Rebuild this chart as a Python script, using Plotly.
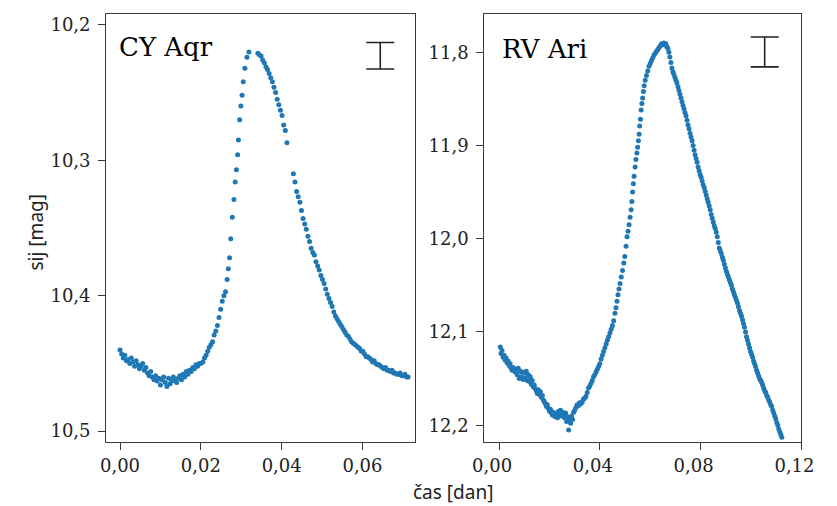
import plotly.graph_objs as go

# CY Aqr light curve (time in days, magnitude)
cy_t = [0.0000, 0.0004, 0.0008, 0.0012, 0.0016, 0.0020, 0.0024, 0.0028, 0.0032, 0.0036,
        0.0040, 0.0044, 0.0048, 0.0052, 0.0056, 0.0060, 0.0064, 0.0068, 0.0072, 0.0076,
        0.0080, 0.0084, 0.0088, 0.0092, 0.0096, 0.0100, 0.0104, 0.0108, 0.0112, 0.0116,
        0.0120, 0.0124, 0.0128, 0.0132, 0.0136, 0.0140, 0.0144, 0.0148, 0.0152, 0.0156,
        0.0160, 0.0164, 0.0168, 0.0172, 0.0176, 0.0180, 0.0184, 0.0188, 0.0192, 0.0196,
        0.0200,
        0.0205, 0.0209, 0.0213, 0.0217, 0.0221, 0.0225, 0.0229, 0.0233, 0.0237, 0.0241,
        0.0245, 0.0249, 0.0253, 0.0257, 0.0261, 0.0265, 0.0268, 0.0271, 0.0274, 0.0278,
        0.0282, 0.0285, 0.0288, 0.0291, 0.0293, 0.0296, 0.0299, 0.0302, 0.0305, 0.0309,
        0.0314, 0.0319,
        0.0341, 0.0345, 0.0349, 0.0353, 0.0357, 0.0361, 0.0365, 0.0369, 0.0373, 0.0377,
        0.0381, 0.0385, 0.0389, 0.0393, 0.0397, 0.0401, 0.0405, 0.0409, 0.0413,
        0.0429, 0.0433, 0.0437, 0.0441, 0.0445, 0.0449, 0.0453, 0.0457, 0.0461, 0.0465,
        0.0469, 0.0473, 0.0477, 0.0481, 0.0485, 0.0489, 0.0493, 0.0497, 0.0501, 0.0505,
        0.0509, 0.0513, 0.0517, 0.0521, 0.0525, 0.0529, 0.0533, 0.0537, 0.0541, 0.0545,
        0.0549, 0.0553, 0.0557, 0.0561, 0.0565, 0.0569, 0.0573, 0.0577, 0.0581, 0.0585,
        0.0589, 0.0593, 0.0597, 0.0601, 0.0605, 0.0609, 0.0613, 0.0617, 0.0621, 0.0625,
        0.0629, 0.0633, 0.0637, 0.0641, 0.0645, 0.0649, 0.0653, 0.0657, 0.0661, 0.0665,
        0.0669, 0.0673, 0.0677, 0.0681, 0.0685, 0.0689, 0.0693, 0.0697, 0.0701, 0.0705,
        0.0709, 0.0713]
cy_mag = [10.440, 10.443, 10.446, 10.444, 10.448, 10.447, 10.450, 10.446, 10.449, 10.452,
          10.448, 10.451, 10.454, 10.452, 10.450, 10.455, 10.453, 10.457, 10.459, 10.456,
          10.460, 10.462, 10.459, 10.463, 10.461, 10.466, 10.462, 10.460, 10.464, 10.467,
          10.461, 10.465, 10.463, 10.460, 10.462, 10.464, 10.461, 10.459, 10.462, 10.458,
          10.460, 10.456, 10.458, 10.455, 10.456, 10.453, 10.454, 10.451, 10.452, 10.450,
          10.450,
          10.449, 10.446, 10.444, 10.441, 10.438, 10.436, 10.434, 10.429, 10.426, 10.422,
          10.416, 10.410, 10.404, 10.400, 10.397, 10.388, 10.380, 10.372, 10.358, 10.342,
          10.329, 10.316, 10.307, 10.296, 10.285, 10.270, 10.260, 10.252, 10.242, 10.232,
          10.224, 10.220,
          10.221, 10.222, 10.223, 10.226, 10.228, 10.231, 10.233, 10.236, 10.239, 10.242,
          10.246, 10.250, 10.255, 10.259, 10.263, 10.267, 10.274, 10.278, 10.287,
          10.310, 10.316, 10.323, 10.327, 10.331, 10.337, 10.343, 10.347, 10.351, 10.356,
          10.360, 10.365, 10.368, 10.370, 10.375, 10.378, 10.381, 10.385, 10.388, 10.391,
          10.395, 10.399, 10.402, 10.405, 10.408, 10.412, 10.415, 10.417, 10.419, 10.421,
          10.423, 10.425, 10.427, 10.429, 10.430, 10.432, 10.434, 10.435, 10.436, 10.437,
          10.438, 10.439, 10.441, 10.441, 10.443, 10.445, 10.445, 10.446, 10.447, 10.449,
          10.448, 10.450, 10.451, 10.451, 10.452, 10.453, 10.454, 10.453, 10.455, 10.455,
          10.456, 10.455, 10.457, 10.457, 10.458, 10.458, 10.457, 10.459, 10.459, 10.458,
          10.460, 10.460]

# RV Ari light curve
rv_t = [0.0005, 0.0008, 0.0012, 0.0016, 0.0020, 0.0024, 0.0028, 0.0032, 0.0036, 0.0040,
        0.0044, 0.0048, 0.0052, 0.0056, 0.0060, 0.0064, 0.0068, 0.0072, 0.0076, 0.0080,
        0.0084, 0.0088, 0.0092, 0.0096, 0.0100, 0.0104, 0.0108, 0.0112, 0.0116, 0.0120,
        0.0124, 0.0128, 0.0132, 0.0136, 0.0140, 0.0144, 0.0148, 0.0152, 0.0156, 0.0160,
        0.0164, 0.0168, 0.0172, 0.0176, 0.0180, 0.0184, 0.0188, 0.0192, 0.0196, 0.0200,
        0.0204, 0.0208, 0.0212, 0.0216, 0.0220, 0.0224, 0.0228, 0.0232, 0.0236, 0.0240,
        0.0244, 0.0248, 0.0252, 0.0256, 0.0260, 0.0264, 0.0268, 0.0272, 0.0276, 0.0280,
        0.0284, 0.0288, 0.0292, 0.0296, 0.0300, 0.0305, 0.0310, 0.0315, 0.0320, 0.0325,
        0.0330, 0.0335, 0.0340, 0.0345, 0.0350, 0.0355, 0.0360, 0.0365, 0.0370, 0.0375,
        0.0380, 0.0385, 0.0390, 0.0395, 0.0400, 0.0405, 0.0410, 0.0415, 0.0420, 0.0425,
        0.0430, 0.0435, 0.0440, 0.0445, 0.0450, 0.0455, 0.0460, 0.0464, 0.0468, 0.0472,
        0.0476, 0.0480, 0.0485, 0.0490, 0.0495, 0.0499, 0.0504, 0.0508, 0.0512, 0.0516,
        0.0520, 0.0524, 0.0527, 0.0530, 0.0533, 0.0536, 0.0540, 0.0543, 0.0547, 0.0550,
        0.0553, 0.0556, 0.0558, 0.0561, 0.0564, 0.0567, 0.0570, 0.0573, 0.0576, 0.0580,
        0.0585, 0.0590, 0.0595, 0.0600, 0.0605, 0.0610, 0.0615, 0.0620, 0.0625, 0.0630,
        0.0635, 0.0640, 0.0645, 0.0650, 0.0654, 0.0658, 0.0662, 0.0666, 0.0670, 0.0674,
        0.0678, 0.0682, 0.0686, 0.0690, 0.0694, 0.0698, 0.0702, 0.0706, 0.0710, 0.0714,
        0.0718, 0.0722, 0.0726, 0.0730, 0.0734, 0.0738, 0.0742, 0.0746, 0.0750, 0.0754,
        0.0758, 0.0762, 0.0766, 0.0770, 0.0774, 0.0778, 0.0782, 0.0786, 0.0790, 0.0794,
        0.0798, 0.0802, 0.0806, 0.0810, 0.0814, 0.0818, 0.0822, 0.0826, 0.0830, 0.0834,
        0.0838, 0.0842, 0.0846, 0.0850, 0.0854, 0.0858, 0.0862, 0.0866, 0.0870, 0.0874,
        0.0878, 0.0882, 0.0886, 0.0890, 0.0894, 0.0898, 0.0902, 0.0906, 0.0910, 0.0914,
        0.0918, 0.0922, 0.0926, 0.0930, 0.0934, 0.0938, 0.0942, 0.0946, 0.0950, 0.0954,
        0.0958, 0.0962, 0.0966, 0.0970, 0.0974, 0.0978, 0.0982, 0.0986, 0.0990, 0.0994,
        0.0998, 0.1002, 0.1006, 0.1010, 0.1014, 0.1018, 0.1022, 0.1026, 0.1030, 0.1034,
        0.1038, 0.1042, 0.1046, 0.1050, 0.1054, 0.1058, 0.1062, 0.1066, 0.1070, 0.1074,
        0.1078, 0.1082, 0.1086, 0.1090, 0.1094, 0.1098, 0.1102, 0.1106, 0.1110, 0.1114,
        0.1118, 0.1122]
rv_mag = [12.116, 12.123, 12.120, 12.127, 12.125, 12.130, 12.128, 12.133, 12.131, 12.136,
          12.134, 12.139, 12.141, 12.138, 12.140, 12.143, 12.140, 12.146, 12.139, 12.150,
          12.142, 12.148, 12.143, 12.151, 12.144, 12.149, 12.142, 12.152, 12.146, 12.153,
          12.148, 12.156, 12.152, 12.159, 12.157, 12.161, 12.163, 12.166, 12.162, 12.167,
          12.164, 12.170, 12.168, 12.173, 12.175, 12.177, 12.180, 12.178, 12.182, 12.185,
          12.183, 12.187, 12.189, 12.186, 12.190, 12.191, 12.188, 12.192, 12.185, 12.189,
          12.184, 12.190, 12.186, 12.188, 12.192, 12.187, 12.196, 12.191, 12.205, 12.193,
          12.198, 12.190, 12.194, 12.186, 12.184, 12.181, 12.178, 12.179, 12.176, 12.177,
          12.175, 12.172, 12.171, 12.169, 12.165, 12.160, 12.158, 12.155, 12.152, 12.148,
          12.146, 12.143, 12.140, 12.137, 12.134, 12.129, 12.125, 12.121, 12.117, 12.113,
          12.109, 12.105, 12.101, 12.097, 12.093, 12.088, 12.080, 12.074, 12.067, 12.060,
          12.054, 12.048, 12.041, 12.034, 12.026, 12.019, 12.008, 11.998, 11.992, 11.985,
          11.977, 11.969, 11.960, 11.950, 11.941, 11.933, 11.923, 11.915, 11.908, 11.902,
          11.895, 11.888, 11.879, 11.872, 11.862, 11.855, 11.849, 11.842, 11.836, 11.830,
          11.825, 11.820, 11.815, 11.812, 11.809, 11.806, 11.803, 11.801, 11.799, 11.797,
          11.795, 11.793, 11.791, 11.792, 11.790, 11.792, 11.791, 11.794, 11.796, 11.800,
          11.805, 11.811, 11.817, 11.821, 11.824, 11.827, 11.830, 11.833, 11.837, 11.841,
          11.845, 11.849, 11.853, 11.857, 11.861, 11.865, 11.868, 11.873, 11.878, 11.882,
          11.887, 11.891, 11.895, 11.900, 11.905, 11.910, 11.914, 11.918, 11.923, 11.927,
          11.931, 11.934, 11.938, 11.942, 11.945, 11.949, 11.953, 11.957, 11.961, 11.965,
          11.969, 11.974, 11.978, 11.982, 11.986, 11.989, 11.993, 11.998, 12.004, 12.010,
          12.013, 12.016, 12.020, 12.023, 12.027, 12.031, 12.035, 12.038, 12.041, 12.044,
          12.047, 12.050, 12.054, 12.057, 12.060, 12.063, 12.066, 12.069, 12.073, 12.077,
          12.080, 12.083, 12.087, 12.091, 12.095, 12.100, 12.105, 12.109, 12.113, 12.117,
          12.121, 12.124, 12.127, 12.131, 12.134, 12.137, 12.141, 12.144, 12.147, 12.150,
          12.152, 12.154, 12.157, 12.160, 12.163, 12.165, 12.168, 12.170, 12.173, 12.175,
          12.178, 12.180, 12.184, 12.187, 12.190, 12.193, 12.197, 12.200, 12.204, 12.207,
          12.210, 12.213]

# typical error bar shown in each panel
err_t = [0.0644, 0.1054]
err_mag = [10.2228, 11.7997]
err_size = [0.0098, 0.0160]

star_names = ["CY Aqr", "RV Ari"]

dot_color = "#1f77b4"
frame_color = "#3a3a3a"
tick_font = dict(family="DejaVu Serif", size=18, color="#222222")
# page body has an 8px margin, so the figure gets 837-16 px of width
W, H = 821, 506
OFF = 8

fig = go.Figure()

fig.add_trace(go.Scatter(x=cy_t, y=cy_mag, mode="markers", xaxis="x", yaxis="y",
                         marker=dict(size=5, color=dot_color), showlegend=False))
fig.add_trace(go.Scatter(x=rv_t, y=rv_mag, mode="markers", xaxis="x2", yaxis="y2",
                         marker=dict(size=5, color=dot_color), showlegend=False))

# error bar glyphs
for i, (xa, ya) in enumerate([("x", "y"), ("x2", "y2")]):
    fig.add_trace(go.Scatter(x=[err_t[i]], y=[err_mag[i]], mode="markers", xaxis=xa, yaxis=ya,
                             marker=dict(size=1, color="rgba(0,0,0,0)"),
                             error_y=dict(type="data", array=[err_size[i]], visible=True,
                                          color="#222222", thickness=1.6, width=14),
                             showlegend=False, hoverinfo="skip"))

axis_common = dict(showline=True, linewidth=1.3, linecolor=frame_color, mirror=True,
                   ticks="outside", ticklen=7, tickwidth=1.2, tickcolor=frame_color,
                   showgrid=False, zeroline=False, tickfont=tick_font)


def px_x(p):
    return (p - OFF) / W


def px_y(p):
    return 1 - (p - OFF) / H


fig.update_layout(
    width=W, height=H,
    margin=dict(l=0, r=0, t=0, b=0),
    plot_bgcolor="white", paper_bgcolor="white",
    separators=", ",
    xaxis=dict(domain=[px_x(97), px_x(415)], range=[-0.0034, 0.0729], tickvals=[0, 0.02, 0.04, 0.06],
               tickformat=".2f", anchor="y", **axis_common),
    yaxis=dict(domain=[px_y(442), px_y(14)], range=[10.508, 10.192], tickvals=[10.2, 10.3, 10.4, 10.5],
               tickformat=".1f", anchor="x", ticklabelstandoff=4, **axis_common),
    # last label sits on the page edge: nudge labels left so it stays on the canvas
    xaxis2=dict(domain=[px_x(487), px_x(814)], range=[-0.0058, 0.12], tickvals=[0, 0.04, 0.08, 0.12],
                tickformat=".2f", anchor="y2", ticklabelshift=-7, **axis_common),
    yaxis2=dict(domain=[px_y(442), px_y(14)], range=[12.218, 11.759], tickvals=[11.8, 11.9, 12.0, 12.1, 12.2],
                tickformat=".1f", anchor="x2", ticklabelstandoff=4, **axis_common),
)

# star names inside panels
fig.add_annotation(x=0.035, y=0.922, xref="x domain", yref="y domain", text=star_names[0],
                   showarrow=False, xanchor="left", yanchor="middle",
                   font=dict(family="DejaVu Serif", size=26, color="black"))
fig.add_annotation(x=0.049, y=0.918, xref="x2 domain", yref="y2 domain", text=star_names[1],
                   showarrow=False, xanchor="left", yanchor="middle",
                   font=dict(family="DejaVu Serif", size=26, color="black"))

# shared axis titles
fig.add_annotation(x=px_x(25), y=px_y(232), xref="paper", yref="paper", text="sij [mag]",
                   showarrow=False, textangle=-90, xanchor="center", yanchor="middle",
                   font=dict(family="Noto Sans", size=19, color="#222222"))
fig.add_annotation(x=px_x(455), y=px_y(492), xref="paper", yref="paper", text="čas [dan]",
                   showarrow=False, xanchor="center", yanchor="middle",
                   font=dict(family="Noto Sans", size=19, color="#222222"))

fig.write_html("out.html")
